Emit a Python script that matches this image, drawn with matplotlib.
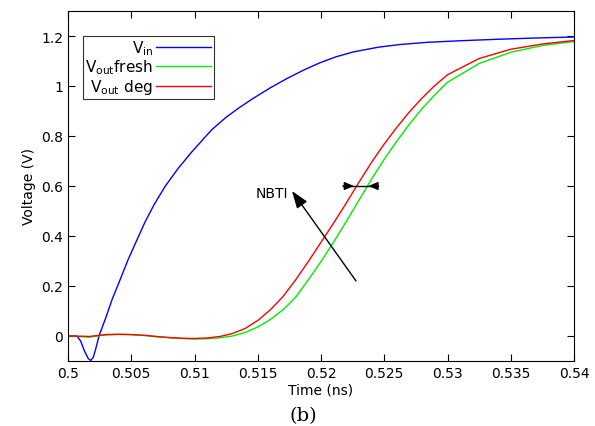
import numpy as np
import matplotlib
matplotlib.use('Agg')
import matplotlib.pyplot as plt

# Vin (input)
t_in = [0.5, 0.5007, 0.5010, 0.5013, 0.5016, 0.5018, 0.5020, 0.5022, 0.50245,
        0.5030, 0.5035, 0.5040, 0.50477, 0.5055, 0.50609, 0.5068, 0.50767,
        0.5087, 0.50978, 0.51136, 0.5125, 0.5135, 0.51462, 0.516, 0.51731,
        0.5186, 0.51992, 0.5212, 0.52253, 0.5245, 0.52625, 0.5285, 0.531,
        0.534, 0.537, 0.540]
v_in = [0.0, 0.0, -0.02, -0.06, -0.09, -0.098, -0.085, -0.05, 0.0,
        0.075, 0.148, 0.21, 0.308, 0.39, 0.456, 0.525, 0.598,
        0.67, 0.736, 0.825, 0.875, 0.912, 0.95, 0.993, 1.03,
        1.063, 1.093, 1.117, 1.136, 1.155, 1.166, 1.175, 1.181,
        1.187, 1.192, 1.196]

# Vout fresh / degraded
t_out = [0.5, 0.5012, 0.5017, 0.502, 0.503, 0.504, 0.505, 0.506, 0.507, 0.508,
         0.509, 0.510, 0.511, 0.512, 0.513, 0.514, 0.515, 0.516, 0.517, 0.518,
         0.519, 0.520, 0.521, 0.522, 0.523, 0.524, 0.525, 0.526, 0.527, 0.528,
         0.529, 0.530, 0.5325, 0.535, 0.5375, 0.540]
v_fresh = [0.0, -0.003, -0.005, -0.002, 0.004, 0.006, 0.005, 0.002, -0.003, -0.007,
           -0.01, -0.012, -0.011, -0.007, 0.0, 0.014, 0.036, 0.066, 0.105, 0.155,
           0.225, 0.298, 0.376, 0.458, 0.543, 0.628, 0.707, 0.78, 0.848, 0.91,
           0.965, 1.015, 1.09, 1.135, 1.162, 1.178]
v_deg = [0.0, -0.001, -0.002, 0.0, 0.006, 0.007, 0.006, 0.003, -0.002, -0.006,
         -0.009, -0.01, -0.008, -0.002, 0.01, 0.03, 0.062, 0.105, 0.158, 0.225,
         0.298, 0.375, 0.452, 0.532, 0.615, 0.695, 0.768, 0.835, 0.897, 0.952,
         1.002, 1.045, 1.11, 1.147, 1.168, 1.182]

xticks = [0.5, 0.505, 0.51, 0.515, 0.52, 0.525, 0.53, 0.535, 0.54]
xlabels = ['0.5', '0.505', '0.51', '0.515', '0.52', '0.525', '0.53', '0.535', '0.54']
yticks = [0, 0.2, 0.4, 0.6, 0.8, 1.0, 1.2]
ylabels = ['0', '0.2', '0.4', '0.6', '0.8', '1', '1.2']

fig = plt.figure(figsize=(5.95, 4.27), dpi=100)
ax = fig.add_axes([68/595, 1-362/427, (574-68)/595, 350/427])

ax.plot(t_in, v_in, color='#0000ff', lw=1.0, label='V$_{\\mathrm{in}}$')
ax.plot(t_out, v_fresh, color='#00ee00', lw=1.0, label='V$_{\\mathrm{out}}$fresh')
ax.plot(t_out, v_deg, color='#ff0000', lw=1.0, label='V$_{\\mathrm{out}}$ deg')

ax.set_xlim(0.5, 0.54)
ax.set_ylim(-0.1, 1.3)
ax.set_xticks(xticks)
ax.set_xticklabels(xlabels)
ax.set_yticks(yticks)
ax.set_yticklabels(ylabels)
ax.tick_params(direction='in', top=True, right=True, length=5, labelsize=10)
ax.set_xlabel('Time (ns)', fontsize=10, labelpad=2)
ax.set_ylabel('Voltage (V)', fontsize=10)

leg = ax.legend(loc='upper left', bbox_to_anchor=(15/506, 325/350), borderaxespad=0,
                markerfirst=False, fancybox=False, fontsize=11, handlelength=3.6,
                labelspacing=0.05, borderpad=0.15, handletextpad=0.2)
leg.get_frame().set_edgecolor('black')
leg.get_frame().set_linewidth(0.8)
for c in leg._legend_handle_box.get_children():
    c.align = 'right'

# NBTI arrow
ax.annotate('', xy=(0.51771, 0.58), xytext=(0.52277, 0.22),
            arrowprops=dict(arrowstyle='-|>,head_length=0.7,head_width=0.25',
                            color='black', lw=1.0,
                            mutation_scale=15, shrinkA=0, shrinkB=0))
ax.text(0.51613, 0.572, 'NBTI', fontsize=10, ha='center', va='center')

# shift marker at 0.6 V
ax.plot([0.52174, 0.52451], [0.6, 0.6], color='black', lw=1.0)
ax.annotate('', xy=(0.5226, 0.6), xytext=(0.52174, 0.6),
            arrowprops=dict(arrowstyle='-|>,head_length=0.7,head_width=0.3',
                            color='black', lw=1.0,
                            mutation_scale=8, shrinkA=0, shrinkB=0))
ax.annotate('', xy=(0.52375, 0.6), xytext=(0.52451, 0.6),
            arrowprops=dict(arrowstyle='-|>,head_length=0.7,head_width=0.3',
                            color='black', lw=1.0,
                            mutation_scale=8, shrinkA=0, shrinkB=0))

fig.text(303/595, 1-416/427, '(b)', family='DejaVu Serif', fontsize=14,
         ha='center', va='center')

fig.savefig('out.png', dpi=100)
